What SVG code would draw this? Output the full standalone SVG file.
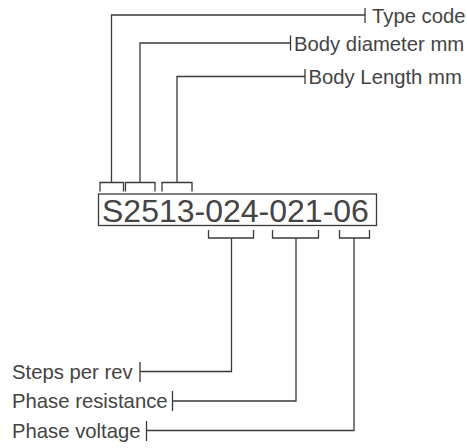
<svg xmlns="http://www.w3.org/2000/svg" width="467" height="448" viewBox="0 0 467 448">
<style>
.ln{fill:none;stroke:#3a3a3a;stroke-width:1.3}
.lbl{font-family:"Liberation Sans",Arial,sans-serif;font-size:20.3px;fill:#444444}
.code{font-family:"Liberation Sans",Arial,sans-serif;font-size:32px;fill:#444444}
</style>
<rect width="467" height="448" fill="#ffffff"/>
<g id="code-box">
<rect class="ln" x="98.5" y="194" width="278" height="31.5"/>
<text class="code" x="102" y="222">S2513-024-021-06</text>
</g>
<g id="label-type-code"><text class="lbl" x="372" y="23">Type code</text></g>
<g id="label-body-diameter"><text class="lbl" x="294" y="50.5">Body diameter mm</text></g>
<g id="label-body-length"><text class="lbl" x="308.5" y="84">Body Length mm</text></g>
<g id="label-steps"><text class="lbl" x="12" y="378.5">Steps per rev</text></g>
<g id="label-resistance"><text class="lbl" x="12" y="408">Phase resistance</text></g>
<g id="label-voltage"><text class="lbl" x="12" y="438">Phase voltage</text></g>
<g id="connectors">
<path class="ln" d="M100,191.5 V182.5 H123.5 V191.5 M111.5,182.5 V15 H365 M365,8 V23"/>
<path class="ln" d="M125.5,191.5 V182.5 H155 V191.5 M140,182.5 V43 H290.5 M290.5,35.5 V50.5"/>
<path class="ln" d="M162,191.5 V182.5 H192 V191.5 M177,182.5 V76.5 H305 M305,69 V84"/>
<path class="ln" d="M208.5,230 V238 H253.5 V230 M231.5,238 V371.5 H140 M140,362 V382"/>
<path class="ln" d="M272.5,230 V238 H318.5 V230 M296,238 V401 H172.5 M172.5,391 V411"/>
<path class="ln" d="M339.5,230 V238 H369.5 V230 M354,238 V430.5 H146.5 M146.5,421 V441"/>
</g>
</svg>
